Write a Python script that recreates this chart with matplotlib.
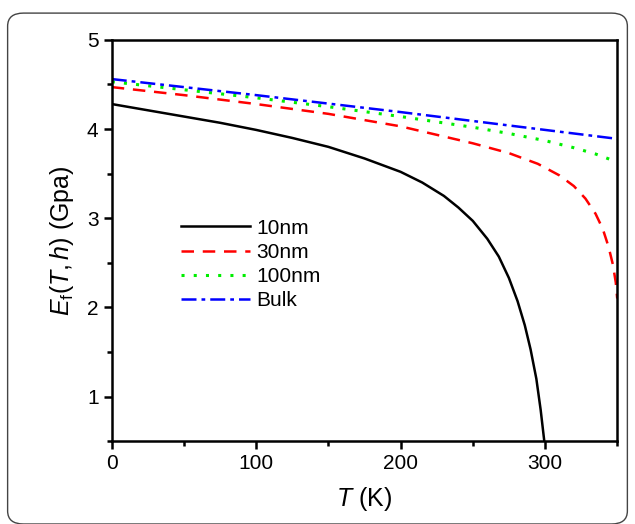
import matplotlib
matplotlib.use('Agg')
import matplotlib.pyplot as plt
from matplotlib.patches import FancyBboxPatch
from matplotlib.ticker import MultipleLocator

plt.rcParams['font.family'] = ['Liberation Sans', 'DejaVu Sans']
plt.rcParams['mathtext.fontset'] = 'custom'
plt.rcParams['mathtext.it'] = 'Liberation Sans:italic'
plt.rcParams['mathtext.rm'] = 'Liberation Sans'

# Значения
t_10 = [0, 25, 50, 75, 100, 125, 150, 175, 200, 215, 230, 240, 250, 260, 268, 275, 281, 286, 290, 294, 297, 299.5]
e_10 = [4.28, 4.21, 4.14, 4.07, 3.99, 3.90, 3.80, 3.67, 3.52, 3.40, 3.25, 3.12, 2.97, 2.77, 2.57, 2.33, 2.07, 1.80, 1.53, 1.20, 0.85, 0.50]
t_30 = [0, 50, 100, 150, 200, 250, 275, 295, 310, 320, 328, 335, 340, 344, 347, 349, 350]
e_30 = [4.47, 4.38, 4.28, 4.17, 4.03, 3.84, 3.73, 3.61, 3.48, 3.36, 3.22, 3.05, 2.88, 2.68, 2.48, 2.28, 2.10]
t_100 = [0, 50, 100, 150, 200, 250, 275, 300, 320, 335, 350]
e_100 = [4.53, 4.44, 4.35, 4.25, 4.14, 4.02, 3.95, 3.87, 3.79, 3.72, 3.63]
t_bulk = [0, 100, 200, 300, 350]
e_bulk = [4.56, 4.38, 4.19, 3.99, 3.89]

fig = plt.figure(figsize=(6.35, 5.24), dpi=100)
fig.patches.append(FancyBboxPatch((0.012, 0.0), 0.976, 0.975, boxstyle='round,pad=0,rounding_size=0.025',
                                  transform=fig.transFigure, fill=False, ec='#444444', lw=1.0))
ax = fig.add_axes([0.176, 0.158, 0.796, 0.766])

ax.plot(t_10, e_10, color='black', lw=1.8, label='10nm')
ax.plot(t_30, e_30, color='red', lw=1.8, ls=(0, (5, 3.5)), label='30nm')
ax.plot(t_100, e_100, color='#00ee00', lw=2.2, ls=(0, (1, 3)), label='100nm')
ax.plot(t_bulk, e_bulk, color='blue', lw=1.8, ls=(0, (6, 2, 1.5, 2)), label='Bulk')

ax.set_xlim(0, 350)
ax.set_ylim(0.5, 5)
ax.xaxis.set_major_locator(MultipleLocator(100))
ax.xaxis.set_minor_locator(MultipleLocator(50))
ax.yaxis.set_major_locator(MultipleLocator(1))
ax.yaxis.set_minor_locator(MultipleLocator(0.5))
ax.tick_params(which='both', direction='out', width=1.8, labelsize=15)
ax.tick_params(which='major', length=6)
ax.tick_params(which='minor', length=3.5)
for s in ax.spines.values():
    s.set_linewidth(1.8)

ax.set_xlabel(r'$T$ (K)', fontsize=18, labelpad=8)
ax.set_ylabel(r'$E_{\mathrm{f}}(T,h)$ (Gpa)', fontsize=18, labelpad=8)

ax.legend(loc='center left', bbox_to_anchor=(0.1, 0.44), frameon=False, fontsize=15,
          handlelength=3.3, handletextpad=0.3, labelspacing=0.25)

plt.savefig('out.png', dpi=100)
